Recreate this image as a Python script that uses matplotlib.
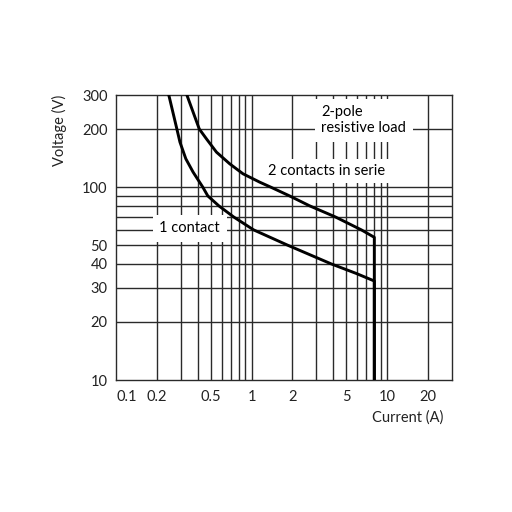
#!/usr/bin/env python
#
# Load the libraries
import matplotlib
matplotlib.use('Agg')
import matplotlib.pyplot as plt
import numpy             as np

# Breaking capacity curves
cur_1contact  = [0.245, 0.281, 0.296, 0.327, 0.370, 0.436, 0.475, 0.572, 0.737, 1.034,
                 1.84, 3.855, 5.888, 8.025, 8.025]
volt_1contact = [300,   200,   171.1, 140.2, 119.6, 100,   90,    80,    70,    60,
                 50,   40,    35.7,  32.6,  10]

cur_2serie  = [0.333, 0.411, 0.464, 0.550, 0.689, 0.863, 1.145, 1.38, 1.903, 2.67,
               4.146, 6.44, 8.025, 8.025]
volt_2serie = [300,   200,   177.9, 151.8, 132.0, 117.2, 106.1, 100,  90,    80,
               70,    60,   54.9,  10]

# grid and tick values
xgrid   = [0.2, 0.3, 0.4, 0.5, 0.6, 0.7, 0.8, 0.9, 1, 2, 3, 4, 5, 6, 7, 8, 9, 10, 20]
ygrid   = [20, 30, 40, 50, 60, 70, 80, 90, 100, 200]
xticks  = [0.1, 0.2, 0.5, 1, 2, 5, 10, 20]
xlabels = ['0.1', '0.2', '0.5', '1', '2', '5', '10', '20']
yticks  = [10, 20, 30, 40, 50, 100, 200, 300]
ylabels = ['10', '20', '30', '40', '50', '100', '200', '300']

plt.rcParams['font.family'] = ['Lato', 'DejaVu Sans']
fs = 10.5
gridcol = '#2a2a2a'

fig = plt.figure(figsize=(5.12, 5.12), dpi=100)
ax  = fig.add_axes([0.2266, 0.2578, 0.6562, 0.5566])
ax.set_xscale('log')
ax.set_yscale('log')
ax.set_xlim(0.1, 30)
ax.set_ylim(10, 300)

for xv in xgrid:
    ax.axvline(xv, color=gridcol, lw=1.0, zorder=1)
for yv in ygrid:
    ax.axhline(yv, color=gridcol, lw=1.0, zorder=1)

# curves
ax.plot(cur_1contact, volt_1contact, color='black', lw=2.1, zorder=5,
        solid_joinstyle='round')
ax.plot(cur_2serie, volt_2serie, color='black', lw=2.1, zorder=5,
        solid_joinstyle='round')

# labels with white boxes hiding the grid behind them
box = dict(boxstyle='square,pad=0.45', fc='white', ec='none')
ax.text(3.27, 222, '2-pole\nresistive load', ha='left', va='center',
        fontsize=fs, linespacing=1.15, bbox=box, zorder=3)
ax.text(3.56, 121, '2 contacts in serie', ha='center', va='center',
        fontsize=fs, bbox=dict(boxstyle='square,pad=0.35', fc='white', ec='none'), zorder=3)
ax.text(0.35, 61.3, '1 contact', ha='center', va='center',
        fontsize=fs, bbox=box, zorder=3)

# ticks
ax.minorticks_off()
ax.set_xticks(xticks)
ax.set_xticklabels(xlabels, fontsize=fs)
ax.set_yticks(yticks)
ax.set_yticklabels(ylabels, fontsize=fs)
ax.tick_params(axis='both', length=0, colors='#222222')
ax.tick_params(axis='x', pad=7)
ax.tick_params(axis='y', pad=6)
ax.get_xticklabels()[0].set_horizontalalignment('left')

for sp in ax.spines.values():
    sp.set_linewidth(1.0)
    sp.set_color(gridcol)

ax.text(0.973, -0.133, 'Current (A)', transform=ax.transAxes, ha='right',
        va='center', fontsize=fs, color='#222222')
ax.text(-0.167, 1.0, 'Voltage (V)', transform=ax.transAxes, ha='center',
        va='top', rotation=90, fontsize=fs, color='#222222')

plt.savefig('out.png', dpi=100)
